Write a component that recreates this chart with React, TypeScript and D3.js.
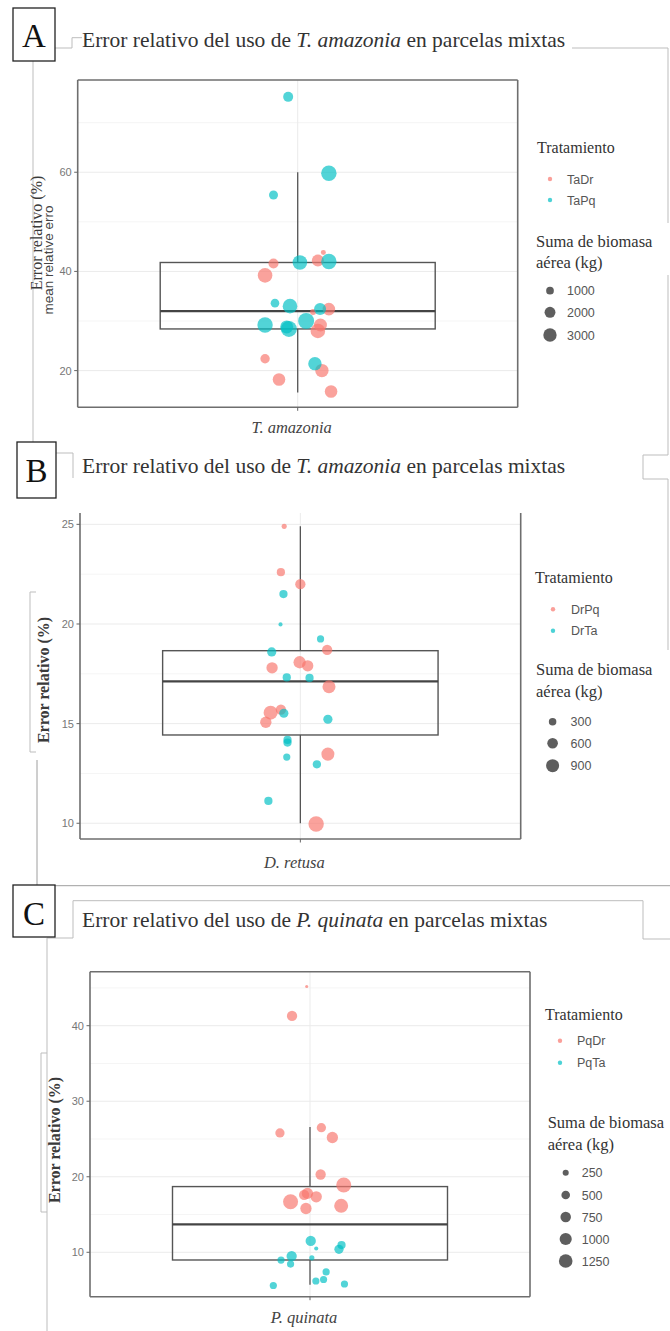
import React from "react";
import * as d3 from "d3";

// ---------- DATA ----------
// Panel A — T. amazonia
const catA = "T. amazonia";
const seriesNamesA = ["TaDr", "TaPq"];
const tadrError = [41.6, 39.2, 42.2, 43.8, 32.4, 31.8, 29.2, 28.0, 22.4, 20.0, 18.2, 15.8];
const tadrJitter = [-0.066, -0.089, 0.055, 0.07, 0.085, 0.042, 0.062, 0.055, -0.089, 0.066, -0.051, 0.091];
const tadrBiomass = [1690, 3600, 2430, 420, 2680, 610, 2850, 3600, 1490, 3030, 2680, 2680];
const tapqError = [75.2, 59.8, 55.4, 41.8, 42.0, 33.6, 33.0, 32.4, 30.0, 29.2, 28.4, 28.8, 21.4];
const tapqJitter = [-0.026, 0.085, -0.066, 0.006, 0.085, -0.062, -0.021, 0.061, 0.023, -0.089, -0.024, -0.03, 0.047];
const tapqBiomass = [1690, 4000, 1370, 3600, 4000, 1250, 3600, 2430, 4320, 4000, 4320, 2850, 3030];
const boxA = [15.6, 28.4, 32.0, 41.8, 60.0]; // whisker low, q1, median, q3, whisker high
const yTicksA = [20, 40, 60];
const yMinorA = [30, 50, 70];
const sizeBreaksA = [1000, 2000, 3000];

// Panel B — D. retusa
const catB = "D. retusa";
const seriesNamesB = ["DrPq", "DrTa"];
const drpqError = [24.9, 22.6, 22.0, 18.7, 18.08, 17.9, 17.8, 16.85, 15.55, 15.7, 15.07, 13.47, 9.96];
const drpqJitter = [-0.044, -0.053, 0.0, 0.073, -0.002, 0.02, -0.077, 0.078, -0.081, -0.053, -0.094, 0.075, 0.043];
const drpqBiomass = [140, 360, 560, 560, 800, 680, 680, 900, 1040, 560, 680, 900, 1257];
const drtaError = [21.5, 19.98, 19.25, 18.6, 17.32, 17.29, 15.52, 15.22, 14.18, 14.05, 13.32, 12.96, 11.12];
const drtaJitter = [-0.046, -0.054, 0.055, -0.078, -0.037, 0.025, -0.045, 0.075, -0.035, -0.035, -0.037, 0.045, -0.087];
const drtaBiomass = [360, 90, 275, 450, 360, 360, 450, 450, 360, 360, 275, 360, 360];
const boxB = [10.0, 14.43, 17.12, 18.66, 24.9];
const yTicksB = [10, 15, 20, 25];
const yMinorB = [12.5, 17.5, 22.5];
const sizeBreaksB = [300, 600, 900];

// Panel C — P. quinata
const catC = "P. quinata";
const seriesNamesC = ["PqDr", "PqTa"];
const pqdrError = [45.2, 41.3, 25.8, 26.5, 25.2, 20.3, 18.9, 17.8, 17.35, 17.6, 16.7, 15.8, 16.15];
const pqdrJitter = [-0.009, -0.049, -0.082, 0.031, 0.061, 0.029, 0.092, -0.007, 0.017, -0.016, -0.053, -0.011, 0.085];
const pqdrBiomass = [65, 714, 580, 580, 860, 714, 1520, 860, 860, 714, 1520, 860, 1320];
const pqtaError = [11.5, 10.95, 10.4, 10.5, 9.5, 8.97, 8.44, 9.27, 7.4, 6.2, 6.4, 5.8, 5.6];
const pqtaJitter = [0.002, 0.086, 0.079, 0.017, -0.05, -0.079, -0.053, 0.005, 0.044, 0.016, 0.037, 0.094, -0.1];
const pqtaBiomass = [714, 457, 580, 115, 714, 350, 350, 180, 350, 350, 350, 350, 350];
const boxC = [5.7, 8.98, 13.7, 18.7, 26.6];
const yTicksC = [10, 20, 30, 40];
const yMinorC = [15, 25, 35, 45];
const sizeBreaksC = [250, 500, 750, 1000, 1250];

const COLORS = ["#F8766D", "#00BFC4"];
const SERIF = "'Liberation Serif', 'Times New Roman', serif";
const SANS = "'Liberation Sans', Arial, sans-serif";

type Series = { name: string; values: number[]; jitter: number[]; biomass: number[] };

type PanelCfg = {
  letter: string;
  letterBox: [number, number, number, number];
  letterBase: number;
  titleY: number;
  titleSpecies: string;
  x0: number; x1: number; y0: number; y1: number;
  topBorder: boolean;
  yDomain: [number, number];
  yTicks: number[];
  yMinor: number[];
  category: string;
  catY: number;
  box: number[];
  series: Series[];
  sizeMax: number;
  sizeBreaks: number[];
  leg: { tx: number; ty: number; dx: number; lx: number; d1: number; d2: number; sx: number; sy1: number; sy2: number; sdx: number; slx: number; sys: number[] };
  yTitle: { x: number; y: number; bold: boolean };
  extraTitle?: { x: number; y: number };
};

function Panel({ p }: { p: PanelCfg }) {
  const y = d3.scaleLinear().domain(p.yDomain).range([p.y1, p.y0]);
  const x = d3.scalePoint<string>().domain([p.category]).range([p.x0, p.x1]).padding(0.5);
  const unit = (p.x1 - p.x0) / 1.2;
  const cx = x(p.category) as number;
  const r = d3.scaleSqrt().domain([0, p.sizeMax]).range([0, 7.2]);
  const bw = 0.75 * unit;
  const [wl, q1, med, q3, wh] = p.box;
  const frame = "#6e6e6e";
  return (
    <g>
      {/* letter box */}
      <rect x={p.letterBox[0]} y={p.letterBox[1]} width={p.letterBox[2]} height={p.letterBox[3]} fill="white" stroke="#222" strokeWidth={1.3} />
      <text x={p.letterBox[0] + p.letterBox[2] / 2} y={p.letterBase} textAnchor="middle" fontFamily={SERIF} fontSize={33} fill="#111">{p.letter}</text>
      {/* title */}
      <text x={82} y={p.titleY} fontFamily={SERIF} fontSize={21.5} fill="#333">
        <tspan>Error relativo del uso de </tspan>
        <tspan fontStyle="italic">{p.titleSpecies}</tspan>
        <tspan> en parcelas mixtas</tspan>
      </text>
      {/* grid */}
      {p.yMinor.filter(v => v > p.yDomain[0] && v < p.yDomain[1]).map(v => (
        <line key={"mn" + v} x1={p.x0} x2={p.x1} y1={y(v)} y2={y(v)} stroke="#f3f3f3" strokeWidth={0.8} />
      ))}
      {p.yTicks.map(v => (
        <line key={"mj" + v} x1={p.x0} x2={p.x1} y1={y(v)} y2={y(v)} stroke="#ebebeb" strokeWidth={1} />
      ))}
      <line x1={cx} x2={cx} y1={p.y0} y2={p.y1} stroke="#ebebeb" strokeWidth={1} />
      {/* whiskers */}
      <line x1={cx} x2={cx} y1={y(wh)} y2={y(q3)} stroke="#555" strokeWidth={1.3} />
      <line x1={cx} x2={cx} y1={y(q1)} y2={y(wl)} stroke="#555" strokeWidth={1.3} />
      {/* box */}
      <rect x={cx - bw / 2} y={y(q3)} width={bw} height={y(q1) - y(q3)} fill="none" stroke="#555" strokeWidth={1.4} />
      <line x1={cx - bw / 2} x2={cx + bw / 2} y1={y(med)} y2={y(med)} stroke="#444" strokeWidth={2.4} />
      {/* points */}
      {p.series.map((s, si) => (
        <g key={s.name}>
          {s.values.map((v, i) => (
            <circle key={i} cx={cx + s.jitter[i] * unit} cy={y(v)} r={r(s.biomass[i])} fill={COLORS[si]} fillOpacity={0.68} />
          ))}
        </g>
      ))}
      {/* frame */}
      <line x1={p.x0} x2={p.x0} y1={p.y0} y2={p.y1} stroke={frame} strokeWidth={1.6} />
      <line x1={p.x1} x2={p.x1} y1={p.y0} y2={p.y1} stroke={frame} strokeWidth={1.6} />
      <line x1={p.x0} x2={p.x1} y1={p.y1} y2={p.y1} stroke={frame} strokeWidth={1.6} />
      {p.topBorder && <line x1={p.x0} x2={p.x1} y1={p.y0} y2={p.y0} stroke={frame} strokeWidth={1.6} />}
      {/* y ticks */}
      {p.yTicks.map(v => (
        <g key={"t" + v}>
          <line x1={p.x0 - 3.5} x2={p.x0} y1={y(v)} y2={y(v)} stroke="#666" strokeWidth={1} />
          <text x={p.x0 - 6} y={y(v) + 4} textAnchor="end" fontFamily={SANS} fontSize={11} fill="#777">{v}</text>
        </g>
      ))}
      {/* x tick */}
      <line x1={cx} x2={cx} y1={p.y1} y2={p.y1 + 3.5} stroke="#666" strokeWidth={1} />
      <text x={cx - 6} y={p.catY} textAnchor="middle" fontFamily={SERIF} fontStyle="italic" fontSize={16.5} fill="#444">{p.category}</text>
      {/* y title */}
      <text transform={`translate(${p.yTitle.x},${p.yTitle.y}) rotate(-90)`} textAnchor="middle" fontFamily={SERIF} fontSize={16} fontWeight={p.yTitle.bold ? "bold" : "normal"} fill="#3a3a3a">Error relativo (%)</text>
      {p.extraTitle && (
        <text transform={`translate(${p.extraTitle.x},${p.extraTitle.y}) rotate(-90)`} textAnchor="middle" fontFamily={SANS} fontSize={13.5} fill="#444">mean relative erro</text>
      )}
      {/* legend: treatment */}
      <text x={p.leg.tx} y={p.leg.ty} fontFamily={SERIF} fontSize={16} fill="#333">Tratamiento</text>
      {p.series.map((s, si) => (
        <g key={"lg" + s.name}>
          <circle cx={p.leg.dx} cy={si === 0 ? p.leg.d1 : p.leg.d2} r={2.2} fill={COLORS[si]} fillOpacity={0.7} />
          <text x={p.leg.lx} y={(si === 0 ? p.leg.d1 : p.leg.d2) + 4.5} fontFamily={SANS} fontSize={12.5} fill="#555">{s.name}</text>
        </g>
      ))}
      {/* legend: size */}
      <text x={p.leg.sx} y={p.leg.sy1} fontFamily={SERIF} fontSize={16.5} fill="#333">Suma de biomasa</text>
      <text x={p.leg.sx} y={p.leg.sy2} fontFamily={SERIF} fontSize={16.5} fill="#333">aérea (kg)</text>
      {p.sizeBreaks.map((b, i) => (
        <g key={"sb" + b}>
          <circle cx={p.leg.sdx} cy={p.leg.sys[i]} r={r(b)} fill="#4d4d4d" fillOpacity={0.9} />
          <text x={p.leg.slx} y={p.leg.sys[i] + 4.5} fontFamily={SANS} fontSize={12.5} fill="#555">{b}</text>
        </g>
      ))}
    </g>
  );
}

export default function App() {
  const panels: PanelCfg[] = [
    {
      letter: "A", letterBox: [13, 8, 42, 53], letterBase: 47, titleY: 47, titleSpecies: "T. amazonia",
      x0: 77.7, x1: 517.7, y0: 80, y1: 407.3, topBorder: true,
      yDomain: [12.6, 78.6], yTicks: yTicksA, yMinor: yMinorA, category: catA, catY: 433,
      box: boxA,
      series: [
        { name: seriesNamesA[0], values: tadrError, jitter: tadrJitter, biomass: tadrBiomass },
        { name: seriesNamesA[1], values: tapqError, jitter: tapqJitter, biomass: tapqBiomass },
      ],
      sizeMax: 3500, sizeBreaks: sizeBreaksA,
      leg: { tx: 537, ty: 153, dx: 550, lx: 567, d1: 179, d2: 200, sx: 536, sy1: 247, sy2: 268, sdx: 550, slx: 567, sys: [290.7, 312.3, 335] },
      yTitle: { x: 42, y: 233, bold: false },
      extraTitle: { x: 53, y: 260 },
    },
    {
      letter: "B", letterBox: [17, 442, 39, 56], letterBase: 482, titleY: 473, titleSpecies: "T. amazonia",
      x0: 80, x1: 520.7, y0: 513, y1: 839, topBorder: false,
      yDomain: [9.21, 25.57], yTicks: yTicksB, yMinor: yMinorB, category: catB, catY: 868,
      box: boxB,
      series: [
        { name: seriesNamesB[0], values: drpqError, jitter: drpqJitter, biomass: drpqBiomass },
        { name: seriesNamesB[1], values: drtaError, jitter: drtaJitter, biomass: drtaBiomass },
      ],
      sizeMax: 1100, sizeBreaks: sizeBreaksB,
      leg: { tx: 535, ty: 583, dx: 553, lx: 571, d1: 609.3, d2: 630.7, sx: 536, sy1: 675, sy2: 697, sdx: 552.6, slx: 570.5, sys: [721.7, 743.3, 765.7] },
      yTitle: { x: 49, y: 680, bold: true },
    },
    {
      letter: "C", letterBox: [13, 885, 42, 52], letterBase: 925, titleY: 926.7, titleSpecies: "P. quinata",
      x0: 90, x1: 530, y0: 971.7, y1: 1296.7, topBorder: true,
      yDomain: [4.12, 47.15], yTicks: yTicksC, yMinor: yMinorC, category: catC, catY: 1323,
      box: boxC,
      series: [
        { name: seriesNamesC[0], values: pqdrError, jitter: pqdrJitter, biomass: pqdrBiomass },
        { name: seriesNamesC[1], values: pqtaError, jitter: pqtaJitter, biomass: pqtaBiomass },
      ],
      sizeMax: 1400, sizeBreaks: sizeBreaksC,
      leg: { tx: 545, ty: 1020, dx: 560, lx: 577, d1: 1040.7, d2: 1062.7, sx: 547.7, sy1: 1128.3, sy2: 1150, sdx: 565.7, slx: 581.7, sys: [1172.7, 1195, 1217, 1239, 1261] },
      yTitle: { x: 59.5, y: 1140, bold: true },
    },
  ];

  const art = "#bdbdbd";
  return (
    <svg width={670} height={1331} viewBox="0 0 670 1331" style={{ position: "absolute", left: 0, top: 0, background: "white" }}>
      <rect x={0} y={0} width={670} height={1331} fill="white" />
      {/* page-frame artifacts from the composite */}
      <g fill="none" stroke={art} strokeWidth={1}>
        <path d="M33,48 H72 V37.7 H82" />
        <path d="M33,48 V453 H73 V478" />
        <path d="M572,48 H668 V223" />
        <path d="M668,275 V455 H643 V479 H668 V650" />
        <path d="M36,592 H30 V752 H36" />
        <path d="M37,760 V885.7 H670" stroke="#9e9e9e" />
        <path d="M47,1331 V938 H73 V900.7 H643 V939 H670" />
        <path d="M47,1053 H41 V1212 H47" />
      </g>
      {panels.map(p => <Panel key={p.letter} p={p} />)}
    </svg>
  );
}
